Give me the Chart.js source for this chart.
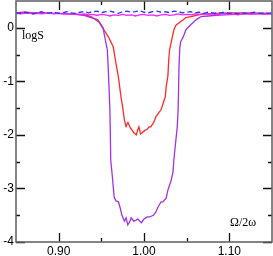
<!DOCTYPE html>
<html>
<head>
<meta charset="utf-8">
<script src="https://cdn.jsdelivr.net/npm/chart.js@4.4.1/dist/chart.umd.min.js"></script>
<style>
  body { margin: 0; background: #fff; }
  canvas { display: block; }
</style>
</head>
<body>
<canvas id="c" width="273" height="256"></canvas>
<script>
// axis ranges and ticks
const xMajor = [0.90, 1.00, 1.10];
const xMinor = [0.95, 1.05];
const yMajor = [-4, -3, -2, -1, 0];
const yMinor = [-3.5, -2.5, -1.5, -0.5];

// red curve
const redX = [0.850, 0.860, 0.870, 0.880, 0.890, 0.900, 0.910, 0.920, 0.930, 0.938, 0.947, 0.953, 0.959, 0.964, 0.966, 0.970,
  0.973, 0.975, 0.977, 0.979, 0.981, 0.984, 0.986, 0.988, 0.991, 0.993, 0.994, 0.996, 1.000, 1.004, 1.006, 1.008, 1.011,
  1.014, 1.018, 1.020, 1.023, 1.025, 1.026, 1.028, 1.029, 1.030, 1.033, 1.035, 1.037, 1.041, 1.046, 1.049, 1.055, 1.061,
  1.067, 1.082, 1.102, 1.125, 1.150];
const redY = [0.28, 0.29, 0.28, 0.28, 0.27, 0.27, 0.26, 0.25, 0.24, 0.21, 0.11, -0.04, -0.19, -0.36, -0.56, -0.92,
  -1.29, -1.48, -1.72, -1.85, -1.76, -1.87, -1.91, -1.96, -2.00, -1.89, -1.85, -1.98, -1.93, -1.89, -1.85, -1.85, -1.78,
  -1.66, -1.57, -1.53, -1.38, -1.29, -1.10, -0.90, -0.60, -0.41, -0.19, -0.04, 0.04, 0.09, 0.15, 0.19, 0.21, 0.23,
  0.25, 0.27, 0.28, 0.28, 0.27];

// purple curve
const purpleX = [0.850, 0.860, 0.870, 0.880, 0.890, 0.900, 0.910, 0.920, 0.930, 0.938, 0.946, 0.952, 0.954, 0.957, 0.958,
  0.959, 0.960, 0.9605, 0.961, 0.963, 0.965, 0.967, 0.970, 0.972, 0.974, 0.977, 0.979, 0.981, 0.983, 0.985, 0.988, 0.991,
  0.993, 0.995, 0.997, 1.000, 1.004, 1.007, 1.011, 1.014, 1.016, 1.020, 1.022, 1.026, 1.028, 1.032, 1.034, 1.035, 1.037,
  1.039, 1.040, 1.0405, 1.041, 1.042, 1.043, 1.046, 1.049, 1.055, 1.061, 1.067, 1.075, 1.094, 1.122, 1.150];
const purpleY = [0.28, 0.28, 0.27, 0.28, 0.27, 0.27, 0.26, 0.25, 0.23, 0.19, 0.15, 0.00, -0.17, -0.41, -0.73,
  -1.10, -1.53, -1.91, -2.47, -2.79, -3.16, -3.23, -3.25, -3.36, -3.49, -3.61, -3.55, -3.68, -3.63, -3.55, -3.61, -3.59,
  -3.57, -3.61, -3.64, -3.57, -3.53, -3.53, -3.50, -3.44, -3.36, -3.25, -3.25, -3.18, -3.03, -2.84, -2.69, -2.47, -2.15,
  -1.85, -1.53, -1.16, -0.73, -0.37, -0.26, -0.17, -0.04, 0.06, 0.15, 0.21, 0.22, 0.24, 0.26, 0.26];

// blue dashed and magenta curves, x from 0.85 to 1.15 every 0.005
const flatX = [0.850, 0.855, 0.860, 0.865, 0.870, 0.875, 0.880, 0.885, 0.890, 0.895, 0.900, 0.905, 0.910, 0.915, 0.920,
  0.925, 0.930, 0.935, 0.940, 0.945, 0.950, 0.955, 0.960, 0.965, 0.970, 0.975, 0.980, 0.985, 0.990, 0.995, 1.000,
  1.005, 1.010, 1.015, 1.020, 1.025, 1.030, 1.035, 1.040, 1.045, 1.050, 1.055, 1.060, 1.065, 1.070, 1.075, 1.080,
  1.085, 1.090, 1.095, 1.100, 1.105, 1.110, 1.115, 1.120, 1.125, 1.130, 1.135, 1.140, 1.145, 1.150];
const blueY = [0.28, 0.27, 0.29, 0.28, 0.26, 0.28, 0.30, 0.27, 0.28, 0.29, 0.27, 0.28, 0.30, 0.28, 0.27,
  0.29, 0.30, 0.28, 0.30, 0.31, 0.28, 0.30, 0.31, 0.29, 0.27, 0.30, 0.31, 0.29, 0.30, 0.32, 0.29,
  0.28, 0.30, 0.31, 0.29, 0.30, 0.28, 0.31, 0.30, 0.28, 0.29, 0.30, 0.28, 0.29, 0.27, 0.29, 0.28,
  0.27, 0.28, 0.29, 0.27, 0.28, 0.26, 0.28, 0.27, 0.28, 0.29, 0.27, 0.28, 0.27, 0.28];
const magentaY = [0.27, 0.26, 0.27, 0.28, 0.26, 0.27, 0.26, 0.27, 0.27, 0.26, 0.27, 0.26, 0.26, 0.25, 0.26,
  0.25, 0.26, 0.24, 0.25, 0.23, 0.25, 0.24, 0.22, 0.24, 0.23, 0.25, 0.23, 0.24, 0.22, 0.24, 0.25,
  0.23, 0.24, 0.22, 0.24, 0.25, 0.23, 0.24, 0.26, 0.24, 0.25, 0.24, 0.26, 0.25, 0.27, 0.25, 0.26,
  0.24, 0.26, 0.27, 0.25, 0.26, 0.24, 0.26, 0.27, 0.25, 0.26, 0.27, 0.25, 0.26, 0.26];

function pts(xs, ys) {
  return xs.map((x, i) => ({ x: x, y: ys[i] }));
}

// frame, inward ticks on all four sides, in-plot labels
const framePlugin = {
  id: 'frame',
  afterDatasetsDraw(chart) {
    const ctx = chart.ctx;
    const a = chart.chartArea;
    const sx = chart.scales.x;
    const sy = chart.scales.y;
    ctx.save();
    ctx.strokeStyle = '#111';
    ctx.lineWidth = 1.3;
    ctx.beginPath();
    const tick = (v, len, horiz) => {
      if (horiz) {
        const px = Math.round(sx.getPixelForValue(v)) + 0.5;
        ctx.moveTo(px, a.bottom); ctx.lineTo(px, a.bottom - len);
        ctx.moveTo(px, a.top); ctx.lineTo(px, a.top + len);
      } else {
        const py = Math.round(sy.getPixelForValue(v)) + 0.5;
        ctx.moveTo(a.left, py); ctx.lineTo(a.left + len, py);
        ctx.moveTo(a.right, py); ctx.lineTo(a.right - len, py);
      }
    };
    xMajor.forEach(v => tick(v, 9, true));
    xMinor.forEach(v => tick(v, 4, true));
    yMajor.forEach(v => tick(v, 9, false));
    yMinor.forEach(v => tick(v, 4, false));
    ctx.stroke();
    ctx.strokeStyle = '#666';
    ctx.lineWidth = 1.6;
    ctx.strokeRect(a.left, a.top, a.right - a.left, a.bottom - a.top);
    ctx.fillStyle = '#000';
    ctx.font = '12px "Liberation Serif"';
    ctx.textBaseline = 'alphabetic';
    ctx.fillText('logS', a.left + 6, a.top + 38);
    ctx.fillText('Ω/2ω', a.right - 42, a.bottom - 16);
    ctx.restore();
  }
};

const noPad = s => { s.paddingTop = 0; s.paddingBottom = 0; s.paddingLeft = 0; s.paddingRight = 0; };

new Chart(document.getElementById('c'), {
  type: 'line',
  data: {
    datasets: [
      { data: pts(flatX, blueY), borderColor: '#1a3cff', borderWidth: 1.3, borderDash: [5, 3] },
      { data: pts(flatX, magentaY), borderColor: '#ff22ff', borderWidth: 1.3 },
      { data: pts(purpleX, purpleY), borderColor: '#a033e8', borderWidth: 1.3 },
      { data: pts(redX, redY), borderColor: '#ff2a2a', borderWidth: 1.3 }
    ]
  },
  options: {
    responsive: false,
    animation: false,
    layout: { padding: { top: 1, right: 1, left: 0, bottom: 0 } },
    elements: { point: { radius: 0 }, line: { tension: 0.0001 } },
    plugins: { legend: { display: false }, tooltip: { enabled: false } },
    scales: {
      x: {
        type: 'linear',
        min: 0.85,
        max: 1.15,
        grid: { display: false, drawTicks: false },
        border: { display: false },
        afterBuildTicks: s => { s.ticks = xMajor.map(v => ({ value: v })); },
        afterFit: s => { s.height = 14; noPad(s); },
        ticks: {
          autoSkip: false,
          maxRotation: 0,
          padding: 2,
          color: '#000',
          font: { family: '"Liberation Sans", Arial, sans-serif', size: 12 },
          callback: v => v.toFixed(2)
        }
      },
      y: {
        min: -4,
        max: 0.5,
        grid: { display: false, drawTicks: false },
        border: { display: false },
        afterBuildTicks: s => { s.ticks = yMajor.map(v => ({ value: v })); },
        afterFit: s => { s.width = 16; noPad(s); },
        ticks: {
          autoSkip: false,
          padding: 2,
          color: '#000',
          font: { family: '"Liberation Sans", Arial, sans-serif', size: 12 },
          callback: v => String(v)
        }
      }
    }
  },
  plugins: [framePlugin]
});
</script>
</body>
</html>
